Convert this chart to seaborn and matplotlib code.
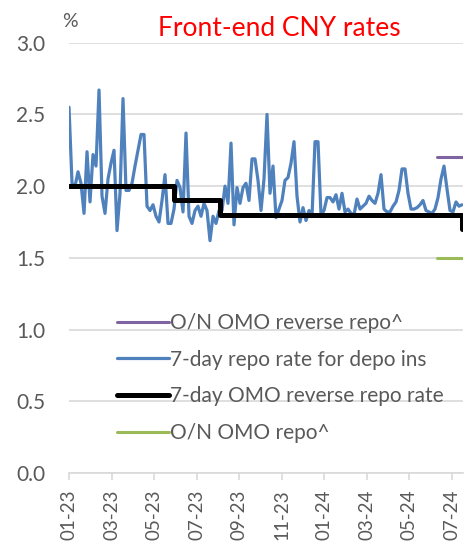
import matplotlib.pyplot as plt
import numpy as np
import pandas as pd
import seaborn as sns

# x axis is a trading-day index, first obs = early Jan 2023
tick_labels = ["01-23", "03-23", "05-23", "07-23", "09-23",
               "11-23", "01-24", "03-24", "05-24", "07-24"]

# 7-day repo rate for depository institutions (%), read every 3rd trading day
repo_7d = [2.55, 2.02, 2.00, 2.10, 2.02, 1.81, 2.24, 1.89, 2.22, 2.14,
           2.67, 1.93, 1.81, 2.05, 2.16, 2.25, 1.69, 1.95, 2.61, 1.97,
           1.97, 2.02, 2.14, 2.25, 2.36, 2.36, 1.86, 1.83, 1.87, 1.79,
           1.75, 1.90, 2.08, 1.74, 1.74, 1.84, 2.04, 1.99, 1.82, 2.37,
           1.79, 1.74, 1.83, 1.86, 1.79, 1.88, 1.83, 1.62, 1.79, 1.74,
           1.83, 1.83, 2.00, 1.88, 2.30, 1.73, 1.99, 1.88, 1.99, 2.02,
           1.90, 2.19, 2.19, 2.04, 1.83, 2.05, 2.50, 1.95, 2.14, 1.78,
           1.84, 1.90, 2.04, 2.06, 2.16, 2.31, 1.93, 1.75, 1.85, 1.76,
           1.83, 1.79, 2.31, 2.31, 1.80, 1.83, 1.92, 1.92, 1.89, 1.94,
           1.84, 1.95, 1.82, 1.84, 1.81, 1.80, 1.91, 1.84, 1.86, 1.88,
           1.93, 1.90, 1.88, 1.95, 2.08, 1.84, 1.82, 1.82, 1.86, 1.89,
           1.97, 2.12, 2.12, 1.95, 1.84, 1.84, 1.85, 1.87, 1.90, 1.83,
           1.82, 1.81, 1.84, 1.92, 2.05, 2.14, 1.98, 1.83, 1.82, 1.89,
           1.86, 1.87]
step = 3

# 7-day OMO reverse repo rate: trading day where each level starts
omo_start = [0, 105, 151, 393, 394]
omo_rate = [2.0, 1.9, 1.8, 1.7, 1.7]

# overnight OMO corridor, only at the end of the sample
on_days = [368, 394]
on_reverse_repo = [2.2, 2.2]
on_repo = [1.5, 1.5]

grey_txt = "#595959"
grey_line = "#D9D9D9"

sns.set_theme(style="whitegrid")
plt.rcParams['font.family'] = ['Lato', 'DejaVu Sans']

fig = plt.figure(figsize=(4.74, 5.46), dpi=100)
ax = fig.add_axes([0.1456, 0.1337, 0.8312, 0.7881])

df = pd.DataFrame({"day": np.arange(len(repo_7d)) * step, "rate": repo_7d})

sns.lineplot(x=on_days, y=on_reverse_repo, color="#8064A2", lw=2.2,
             label="O/N OMO reverse repo^", ax=ax)
sns.lineplot(data=df, x="day", y="rate", color="#4F81BD", lw=2.3,
             label="7-day repo rate for depo ins", ax=ax)
sns.lineplot(x=omo_start, y=omo_rate, drawstyle="steps-post", color="black",
             lw=3.6, label="7-day OMO reverse repo rate", ax=ax)
sns.lineplot(x=on_days, y=on_repo, color="#9BBB59", lw=2.2,
             label="O/N OMO repo^", ax=ax)

ax.set_xlim(0, 394)
ax.set_ylim(0, 3)
ax.set_yticks(np.arange(0, 3.01, 0.5))
ax.set_yticklabels([f"{v:.1f}" for v in np.arange(0, 3.01, 0.5)])
ax.set_xticks(np.arange(len(tick_labels)) * 42.5)
ax.set_xticklabels(tick_labels, rotation=90)
ax.set_xlabel("")
ax.set_ylabel("")

ax.grid(axis="x", visible=False)
ax.grid(axis="y", color=grey_line, lw=1.2)
for s in ["left", "right", "top"]:
    ax.spines[s].set_visible(False)
ax.spines["bottom"].set_color(grey_line)
ax.spines["bottom"].set_linewidth(1.2)
ax.tick_params(axis="x", bottom=True, length=5, width=1.2, color=grey_line,
               labelcolor=grey_txt, labelsize=13.5, pad=7)
ax.tick_params(axis="y", left=False, labelcolor=grey_txt, labelsize=15, pad=11)

leg = ax.legend(loc="upper left", bbox_to_anchor=(0.122, 0.372), frameon=False,
                fontsize=15, handlelength=2.5, handletextpad=0.05,
                labelspacing=0.8, borderpad=0, borderaxespad=0)
for t in leg.get_texts():
    t.set_color(grey_txt)

fig.text(0.59, 0.948, "Front-end CNY rates", color="red", fontsize=19,
         ha="center", va="center")
fig.text(0.148, 0.96, "%", color=grey_txt, fontsize=14, ha="center", va="center")

fig.savefig("out.png", dpi=100)
